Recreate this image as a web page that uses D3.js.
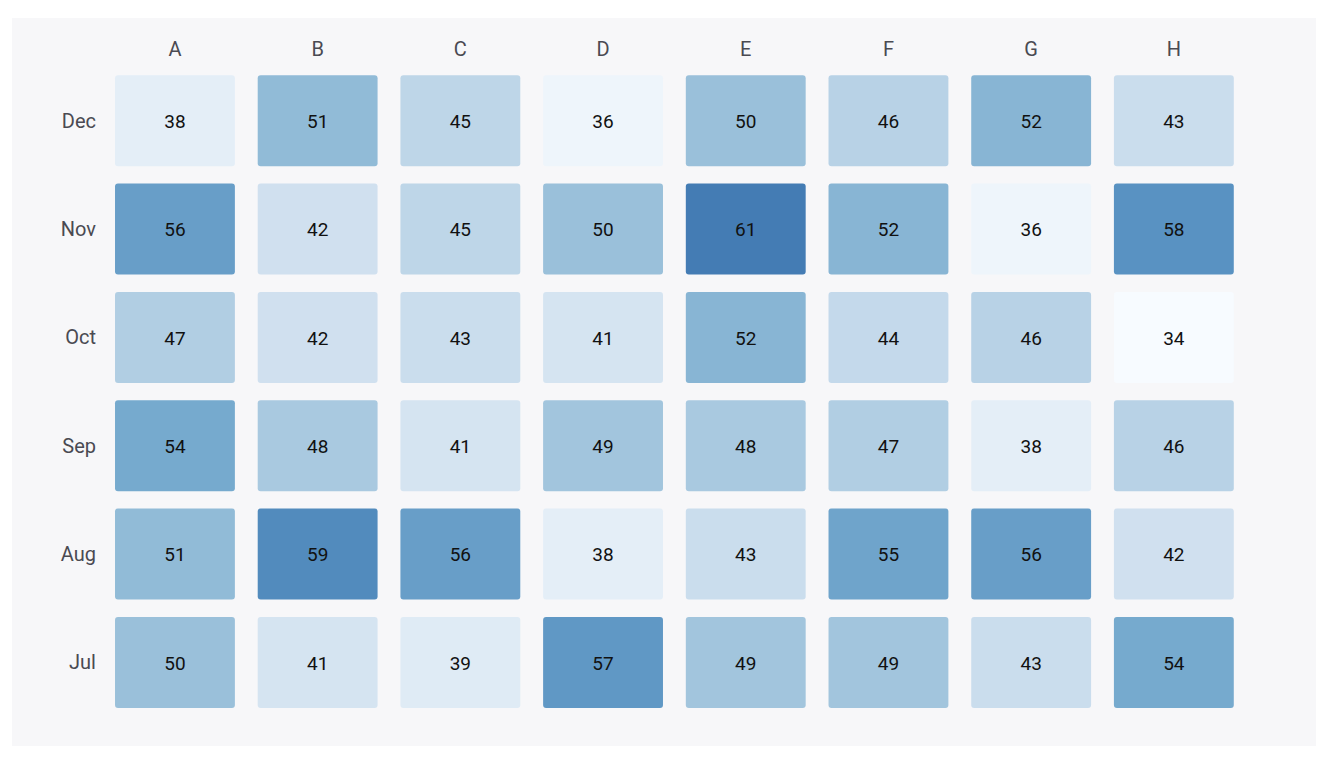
<!DOCTYPE html>
<html>
<head>
<meta charset="utf-8">
<script src="https://cdn.jsdelivr.net/npm/d3@7"></script>
<style>
  html, body { margin: 0; padding: 0; background: #ffffff; }
  svg { display: block; font-family: Roboto, "Noto Sans", sans-serif; }
</style>
</head>
<body>
<svg id="chart" width="1332" height="762"></svg>
<script>
const columns = ["A", "B", "C", "D", "E", "F", "G", "H"];
const months = ["Dec", "Nov", "Oct", "Sep", "Aug", "Jul"];
const decValues = [38, 51, 45, 36, 50, 46, 52, 43];
const novValues = [56, 42, 45, 50, 61, 52, 36, 58];
const octValues = [47, 42, 43, 41, 52, 44, 46, 34];
const sepValues = [54, 48, 41, 49, 48, 47, 38, 46];
const augValues = [51, 59, 56, 38, 43, 55, 56, 42];
const julValues = [50, 41, 39, 57, 49, 49, 43, 54];

const rows = [decValues, novValues, octValues, sepValues, augValues, julValues];
const cells = [];
rows.forEach((vals, ri) => vals.forEach((v, ci) => cells.push({ row: months[ri], col: columns[ci], value: v })));

const svg = d3.select("#chart");

svg.append("rect")
  .attr("x", 12).attr("y", 18)
  .attr("width", 1304).attr("height", 728)
  .attr("fill", "#f7f7f9");

const x = d3.scaleBand().domain(columns).range([103.6, 1245.2]).paddingInner(0.16).paddingOuter(0.08);
const y = d3.scaleBand().domain(months).range([66.6, 716.6]).paddingInner(0.16).paddingOuter(0.08);

const [vmin, vmax] = d3.extent(cells, d => d.value);
const stopColors = ["#f7fbff", "#e4eef7", "#d0e0ef", "#b8d2e6", "#9ac0da", "#76aace", "#5992c2", "#447cb4"];
const stopT = [0, 4, 8, 12, 16, 20, 24, 27].map(s => s / 27);
const color = d3.scaleLinear()
  .domain(stopT.map(t => vmin + t * (vmax - vmin)))
  .range(stopColors)
  .interpolate(d3.interpolateRgb);

svg.append("g").selectAll("rect")
  .data(cells).join("rect")
  .attr("x", d => x(d.col))
  .attr("y", d => y(d.row))
  .attr("width", x.bandwidth())
  .attr("height", y.bandwidth())
  .attr("rx", 3).attr("ry", 3)
  .attr("fill", d => color(d.value));

svg.append("g").selectAll("text")
  .data(cells).join("text")
  .attr("x", d => x(d.col) + x.bandwidth() / 2)
  .attr("y", d => y(d.row) + y.bandwidth() / 2 + 0.8)
  .attr("text-anchor", "middle")
  .attr("dominant-baseline", "central")
  .attr("font-size", 19)
  .attr("fill", "#111")
  .text(d => d.value);

svg.append("g").selectAll("text")
  .data(columns).join("text")
  .attr("x", d => x(d) + x.bandwidth() / 2)
  .attr("y", 49)
  .attr("text-anchor", "middle")
  .attr("dominant-baseline", "central")
  .attr("font-size", 20)
  .attr("fill", "#4a4a52")
  .text(d => d);

svg.append("g").selectAll("text")
  .data(months).join("text")
  .attr("x", 96)
  .attr("y", d => y(d) + y.bandwidth() / 2)
  .attr("text-anchor", "end")
  .attr("dominant-baseline", "central")
  .attr("font-size", 20)
  .attr("fill", "#4a4a52")
  .text(d => d);
</script>
</body>
</html>
